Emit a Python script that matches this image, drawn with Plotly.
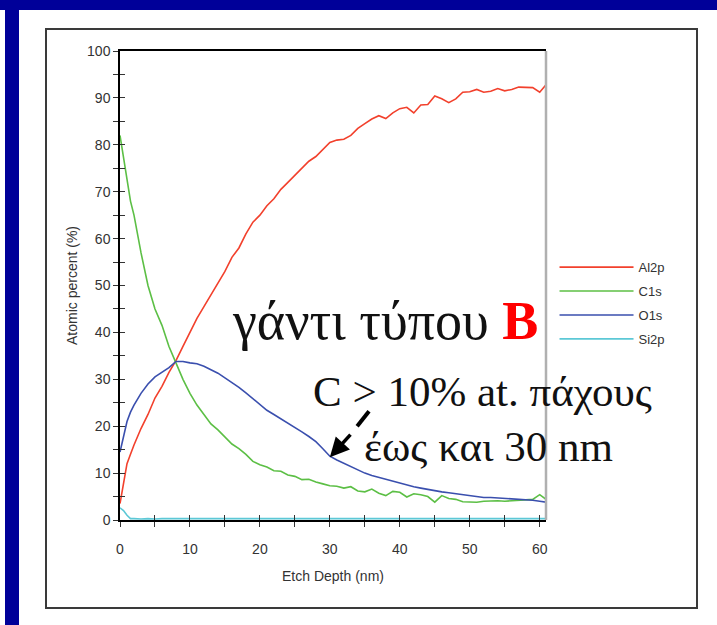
import plotly.graph_objects as go

depth = [0, 0.5, 1, 1.5, 2, 3, 4, 5, 6, 7, 8, 9, 10, 11, 12, 13, 14, 15, 16, 17, 18, 19, 20,
         21, 22, 23, 24, 25, 26, 27, 28, 29, 30, 31, 32, 33, 34, 35, 36, 37, 38, 39, 40,
         41, 42, 43, 44, 45, 46, 47, 48, 49, 50, 51, 52, 53, 54, 55, 56, 57, 58, 59, 60, 60.9]

al2p = [3.5, 8, 12, 14, 16, 19.5, 22.5, 26, 28.5, 31.5, 34, 37, 40, 43, 45.5, 48, 50.5, 53, 56, 58, 61, 63.5, 65,
        67, 68.5, 70.5, 72, 73.5, 75, 76.5, 77.5, 79, 80.5, 81, 81.2, 82, 83.5, 84.5, 85.5, 86.2, 85.6, 86.8, 87.7,
        88, 86.8, 88.5, 88.6, 90.4, 89.8, 89, 89.8, 91.2, 91.3, 91.8, 91.2, 91.4, 92, 91.5, 91.8, 92.3, 92.3, 92.2, 91.2, 92.8]

c1s = [82, 77, 72, 68, 65, 57, 50, 45, 41.5, 37, 33.5, 30, 27, 24.5, 22.5, 20.5, 19.2, 17.8, 16.2, 15.2, 14, 12.5, 11.8,
       11.3, 10.5, 10.4, 9.6, 9.3, 8.6, 8.7, 8.1, 7.7, 7.3, 7.2, 6.8, 7.1, 6.2, 6.0, 6.6, 5.7, 5.2, 6.1, 5.9,
       4.9, 5.6, 5.4, 5.0, 3.8, 5.2, 4.6, 4.4, 3.9, 3.9, 3.8, 4.0, 4.1, 4.1, 4.0, 4.1, 4.2, 4.3, 4.4, 5.4, 4.4]

o1s = [14.5, 18, 21, 23, 24.5, 27, 29, 30.5, 31.5, 32.5, 33.8, 33.8, 33.5, 33.3, 32.8, 32.1, 31.3, 30.3, 29.3, 28.3, 27.1, 25.8, 24.6,
       23.4, 22.5, 21.6, 20.7, 19.7, 18.8, 17.8, 16.7, 15.2, 13.6, 12.8, 12.1, 11.4, 10.6, 10.0, 9.5, 9.1, 8.7, 8.3, 7.8,
       7.5, 7.1, 6.8, 6.5, 6.2, 6.0, 5.8, 5.6, 5.3, 5.1, 4.9, 4.8, 4.8, 4.7, 4.6, 4.5, 4.5, 4.4, 4.2, 4.0, 3.8]

si2p = [2.6, 2.0, 1.0, 0.3, 0.3, 0.2, 0.3, 0.2, 0.3, 0.3, 0.2, 0.3, 0.3, 0.2, 0.3, 0.3, 0.2, 0.3, 0.3, 0.2, 0.3, 0.3, 0.2,
        0.3, 0.3, 0.2, 0.3, 0.3, 0.2, 0.3, 0.3, 0.2, 0.3, 0.3, 0.2, 0.3, 0.3, 0.2, 0.3, 0.3, 0.2, 0.3, 0.3,
        0.2, 0.3, 0.3, 0.2, 0.3, 0.3, 0.2, 0.3, 0.3, 0.2, 0.3, 0.3, 0.2, 0.3, 0.3, 0.2, 0.3, 0.3, 0.2, 0.3, 0.3]

series_names = ["Al2p", "C1s", "O1s", "Si2p"]
series_values = [al2p, c1s, o1s, si2p]
series_colors = ["#f2402c", "#5cbf45", "#3a4fae", "#5cc8d6"]

x_title = "Etch Depth (nm)"
y_title = "Atomic percent (%)"
title_main = "γάντι τύπου <b><span style='color:#ff0000'>B</span></b>"
note_line1 = "C > 10% at. πάχους"
note_line2 = "έως και 30 nm"

fig = go.Figure()
for name, vals, col in zip(series_names, series_values, series_colors):
    fig.add_trace(go.Scatter(x=depth, y=vals, mode="lines", name=name, legendgroup=name,
                             line=dict(color=col, width=1.6)))
# helper trace so the overlay axes (inner tick halves) exist
fig.add_trace(go.Scatter(x=[None], y=[None], xaxis="x2", yaxis="y2", showlegend=False, hoverinfo="skip"))

axfont = dict(family="Liberation Sans, Arial, sans-serif", size=14, color="#333333")

fig.update_layout(
    width=717, height=625,
    margin=dict(l=120, r=171, t=51, b=105),
    paper_bgcolor="white", plot_bgcolor="white",
    showlegend=True,
    legend=dict(x=1.02, y=0.571, xanchor="left", yanchor="top",
                font=dict(family="Liberation Sans, Arial, sans-serif", size=13, color="#333333"),
                bgcolor="rgba(0,0,0,0)", itemwidth=74, tracegroupgap=4),
    xaxis=dict(range=[0, 60.9], showline=True, linecolor="black", linewidth=1.5, mirror=True,
               showgrid=False, zeroline=False, ticks="outside", ticklen=5, tickcolor="#333",
               dtick=10, tick0=0, tickfont=axfont, ticklabelstandoff=10,
               minor=dict(ticks="outside", ticklen=5, dtick=5, tickcolor="#333"),
               title=dict(text=x_title, font=axfont, standoff=16)),
    yaxis=dict(range=[0, 100], showline=True, linecolor="black", linewidth=1.5, mirror=False,
               showgrid=False, zeroline=False, ticks="outside", ticklen=5, tickcolor="#333",
               dtick=10, tick0=0, tickfont=axfont,
               minor=dict(ticks="outside", ticklen=5, dtick=5, tickcolor="#333"),
               title=dict(text=y_title, font=axfont, standoff=6)),
    xaxis2=dict(overlaying="x", anchor="y2", side="bottom", range=[0, 60.9], showline=False,
                showgrid=False, zeroline=False, ticks="inside", ticklen=5, dtick=5, tick0=0,
                tickcolor="#333", showticklabels=False),
    yaxis2=dict(overlaying="y", anchor="x2", side="left", range=[0, 100], showline=False,
                showgrid=False, zeroline=False, ticks="inside", ticklen=5, dtick=5, tick0=0,
                tickcolor="#333", showticklabels=False),
)

# slide decorations: blue bands and chart frame (paper coords relative to plot area)
def px_to_paper_x(px):
    return (px - 120) / 426.0

def px_to_paper_y(py):
    return (520 - py) / 469.0

shapes = [
    dict(type="rect", xref="paper", yref="paper", x0=px_to_paper_x(-5), x1=px_to_paper_x(722),
         y0=px_to_paper_y(10), y1=px_to_paper_y(-5), fillcolor="#000099", line=dict(width=0), layer="above"),
    dict(type="rect", xref="paper", yref="paper", x0=px_to_paper_x(5), x1=px_to_paper_x(19),
         y0=px_to_paper_y(630), y1=px_to_paper_y(-5), fillcolor="#000099", line=dict(width=0), layer="above"),
    dict(type="rect", xref="paper", yref="paper", x0=px_to_paper_x(46), x1=px_to_paper_x(697),
         y0=px_to_paper_y(608), y1=px_to_paper_y(29), fillcolor="rgba(0,0,0,0)",
         line=dict(color="#3a3a3a", width=2), layer="below"),
    # right border of plot in grey
    dict(type="line", xref="paper", yref="paper", x0=1, x1=1, y0=0, y1=1,
         line=dict(color="#b0b0b0", width=2.5)),
    # dash of the dashed arrow
    dict(type="line", xref="x", yref="y", x0=35.6, y0=23.2, x1=33.9, y1=20.0,
         line=dict(color="black", width=4)),
]
fig.update_layout(shapes=shapes)

serif = "Liberation Serif, Times New Roman, serif"
fig.add_annotation(x=px_to_paper_x(230), y=px_to_paper_y(321), xref="paper", yref="paper",
                   xanchor="left", yanchor="middle", text=title_main, showarrow=False,
                   font=dict(family=serif, size=54, color="#111111"))
fig.add_annotation(x=px_to_paper_x(311), y=px_to_paper_y(391), xref="paper", yref="paper",
                   xanchor="left", yanchor="middle", text=note_line1, showarrow=False,
                   font=dict(family=serif, size=43, color="#111111"))
fig.add_annotation(x=px_to_paper_x(362), y=px_to_paper_y(446), xref="paper", yref="paper",
                   xanchor="left", yanchor="middle", text=note_line2, showarrow=False,
                   font=dict(family=serif, size=43, color="#111111"))
# arrow head pointing at the O1s curve at 30 nm
fig.add_annotation(x=30, y=13.4, xref="x", yref="y", text="", showarrow=True,
                   ax=22, ay=-24, axref="pixel", ayref="pixel",
                   arrowhead=2, arrowsize=1.1, arrowwidth=3.5, arrowcolor="black")

fig.write_html("out.html")
